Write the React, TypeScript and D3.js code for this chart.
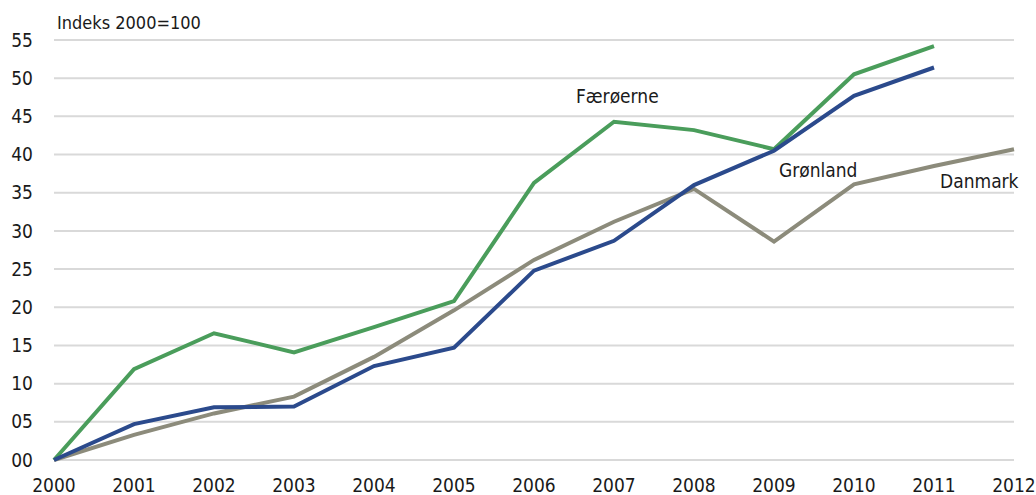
import { useEffect, useRef } from "react";
import * as d3 from "d3";

const years = [2000, 2001, 2002, 2003, 2004, 2005, 2006, 2007, 2008, 2009, 2010, 2011, 2012];
const yTicks = [0, 5, 10, 15, 20, 25, 30, 35, 40, 45, 50, 55];

const faeroerne = [0, 11.9, 16.6, 14.1, 17.4, 20.8, 36.3, 44.3, 43.2, 40.7, 50.5, 54.2];
const groenland = [0, 4.7, 6.9, 7.0, 12.3, 14.7, 24.8, 28.7, 36.0, 40.5, 47.7, 51.4];
const danmark = [0, 3.3, 6.1, 8.3, 13.5, 19.6, 26.2, 31.2, 35.5, 28.6, 36.1, 38.5, 40.7];

const seriesNames = ["Færøerne", "Grønland", "Danmark"];
const seriesColors = ["#4a9d5b", "#2b4a8c", "#8c8b7b"];

const font = "'Liberation Sans Narrow', 'DejaVu Sans Condensed', sans-serif";

const App = () => {
  const ref = useRef<SVGSVGElement>(null);

  useEffect(() => {
    const W = 1036, H = 495;
    const svg = d3.select(ref.current);
    svg.selectAll("*").remove();
    svg.attr("width", W).attr("height", H);

    const x = d3.scaleLinear().domain([2000, 2012]).range([54, 1014]);
    const y = d3.scaleLinear().domain([0, 55]).range([460, 40]);

    // gridlines
    svg.append("g")
      .selectAll("line")
      .data(yTicks)
      .join("line")
      .attr("x1", x(2000)).attr("x2", x(2012))
      .attr("y1", d => y(d)).attr("y2", d => y(d))
      .attr("stroke", "#d9d9d9")
      .attr("stroke-width", 2);

    // y labels
    svg.append("g")
      .selectAll("text")
      .data(yTicks)
      .join("text")
      .attr("x", 33)
      .attr("y", d => y(d))
      .attr("dy", "0.35em")
      .attr("text-anchor", "end")
      .attr("font-family", font)
      .attr("font-size", 19)
      .attr("fill", "#1a1a1a")
      .text(d => d3.format("02d")(d));

    // x labels
    svg.append("g")
      .selectAll("text")
      .data(years)
      .join("text")
      .attr("x", d => x(d))
      .attr("y", 492)
      .attr("text-anchor", "middle")
      .attr("font-family", font)
      .attr("font-size", 19)
      .attr("fill", "#1a1a1a")
      .text(d => String(d));

    svg.append("text")
      .attr("x", 57).attr("y", 29)
      .attr("font-family", font)
      .attr("font-size", 18)
      .attr("fill", "#1a1a1a")
      .text("Indeks 2000=100");

    const line = d3.line<number>()
      .x((_, i) => x(years[i]))
      .y(d => y(d));

    const allSeries = [danmark, faeroerne, groenland];
    const colorOf = [seriesColors[2], seriesColors[0], seriesColors[1]];
    allSeries.forEach((s, i) => {
      svg.append("path")
        .datum(s)
        .attr("fill", "none")
        .attr("stroke", colorOf[i])
        .attr("stroke-width", 4)
        .attr("stroke-linejoin", "miter")
        .attr("d", line);
    });

    // series labels
    const labelPos = [
      { name: seriesNames[0], x: 576, y: 103 },
      { name: seriesNames[1], x: 779, y: 177 },
      { name: seriesNames[2], x: 940, y: 188 },
    ];
    svg.append("g")
      .selectAll("text")
      .data(labelPos)
      .join("text")
      .attr("x", d => d.x).attr("y", d => d.y)
      .attr("font-family", font)
      .attr("font-size", 19)
      .attr("fill", "#1a1a1a")
      .text(d => d.name);
  }, []);

  return <svg ref={ref} style={{ position: "absolute", left: 0, top: 0 }}></svg>;
};

export default App;
